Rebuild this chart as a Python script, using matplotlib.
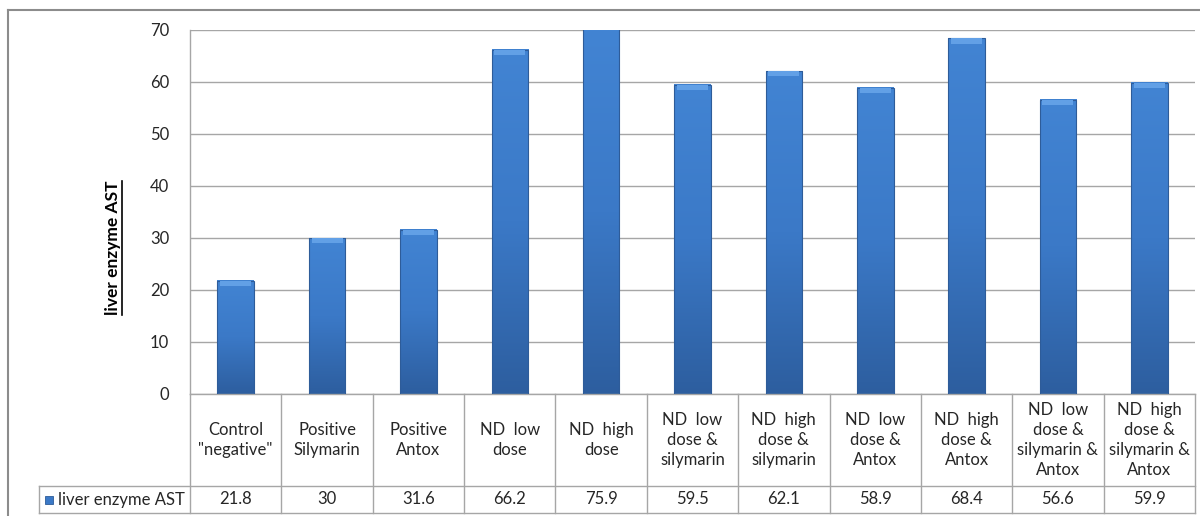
import numpy as np
import matplotlib.pyplot as plt
from matplotlib.transforms import blended_transform_factory
from matplotlib.lines import Line2D
from matplotlib.patches import Rectangle
from matplotlib.colors import LinearSegmentedColormap

# Chart data
categories = ['Control\n"negative"', 'Positive\nSilymarin', 'Positive\nAntox',
              'ND  low\ndose', 'ND  high\ndose', 'ND  low\ndose &\nsilymarin',
              'ND  high\ndose &\nsilymarin', 'ND  low\ndose &\nAntox',
              'ND  high\ndose &\nAntox', 'ND  low\ndose &\nsilymarin &\nAntox',
              'ND  high\ndose &\nsilymarin &\nAntox']
ast_values = [21.8, 30, 31.6, 66.2, 75.9, 59.5, 62.1, 58.9, 68.4, 56.6, 59.9]
series_name = 'liver enzyme AST'
y_ticks = [0, 10, 20, 30, 40, 50, 60, 70]
y_max = 70

plt.rcParams['font.family'] = ['Lato', 'DejaVu Sans']
grid_col = '#A6A6A6'
text_col = '#262626'
fs = 12

fig = plt.figure(figsize=(12, 5.16), dpi=100)
W, H = 1200, 516
ax = fig.add_axes([190 / W, 1 - 394 / H, 1005 / W, 364 / H])

n = len(categories)
x = np.arange(n)

# Bars: vertical gradient, darker outline, light bevel on top
grad = np.linspace(1, 0, 256).reshape(-1, 1)
cmap = LinearSegmentedColormap.from_list('bar', ['#2D5E9F', '#3B79C7', '#4284D3'])
bw = 0.4
bars = ax.bar(x, ast_values, width=bw, color='none', edgecolor='#2E5C99',
              linewidth=0.8, zorder=3)
for b, v in zip(bars, ast_values):
    x0 = b.get_x()
    ax.imshow(grad, extent=[x0, x0 + bw, 0, min(v, y_max)], aspect='auto',
              cmap=cmap, origin='upper', zorder=2)
ax.bar(x, [1.0] * n, bottom=np.array(ast_values) - 1.0, width=bw * 0.85,
       color='#62A0E6', linewidth=0, zorder=3)
ax.set_xlim(-0.5, n - 0.5)
ax.set_ylim(0, y_max)

ax.set_yticks(y_ticks)
ax.set_yticklabels([str(t) for t in y_ticks], fontsize=fs, color=text_col)
ax.tick_params(axis='y', length=0, pad=15)
ax.set_xticks([])
ax.grid(axis='y', color=grid_col, linewidth=1, zorder=0)
ax.set_axisbelow(True)
for s in ['top', 'right']:
    ax.spines[s].set_visible(False)
for s in ['left', 'bottom']:
    ax.spines[s].set_color(grid_col)
    ax.spines[s].set_linewidth(1)

# Data table under the axis
tr = blended_transform_factory(ax.transData, ax.transAxes)
row1 = -92 / 364
row2 = -119 / 364
for xb in np.arange(n + 1) - 0.5:
    ax.add_line(Line2D([xb, xb], [0, row2], transform=tr, color=grid_col,
                       linewidth=1, clip_on=False))
for i, (lab, v) in enumerate(zip(categories, ast_values)):
    ax.text(i, row1 / 2, lab, transform=tr, ha='center', va='center',
            fontsize=fs, color=text_col, linespacing=1.3, clip_on=False)
    ax.text(i, (row1 + row2) / 2, f'{v:g}', transform=tr, ha='center',
            va='center', fontsize=fs, color=text_col, clip_on=False)

fig.add_artist(Line2D([39 / W, 1195 / W], [1 - 486 / H] * 2, color=grid_col, linewidth=1))
fig.add_artist(Line2D([39 / W, 1195 / W], [1 - 513 / H] * 2, color=grid_col, linewidth=1))
fig.add_artist(Line2D([39 / W, 39 / W], [1 - 486 / H, 1 - 513 / H], color=grid_col, linewidth=1))

# Legend key in table
fig.add_artist(Rectangle((45 / W, 1 - 504 / H), 8 / W, 8 / H, facecolor='#3B79C7',
                         edgecolor='#2E5C99', linewidth=0.6))
fig.text(58 / W, 1 - 499.5 / H, series_name, ha='left', va='center',
         fontsize=fs, color=text_col)

# Chart border
fig.add_artist(Line2D([8 / W, 1.01], [1 - 10 / H] * 2, color='#8C8C8C', linewidth=1.5))
fig.add_artist(Line2D([8 / W, 8 / W], [1 - 10 / H, -0.01], color='#8C8C8C', linewidth=1.5))

# Y axis title, bold and underlined
ylab = fig.text(113 / W, 1 - 248 / H, series_name, rotation=90, ha='center',
                va='center', fontsize=12.5, fontweight='bold', color='black')
fig.canvas.draw()
bb = ylab.get_window_extent().transformed(fig.transFigure.inverted())
fig.add_artist(Line2D([bb.x1 + 0.5 / W] * 2, [bb.y0, bb.y1], color='black', linewidth=1.2))

fig.savefig('out.png', dpi=100)
